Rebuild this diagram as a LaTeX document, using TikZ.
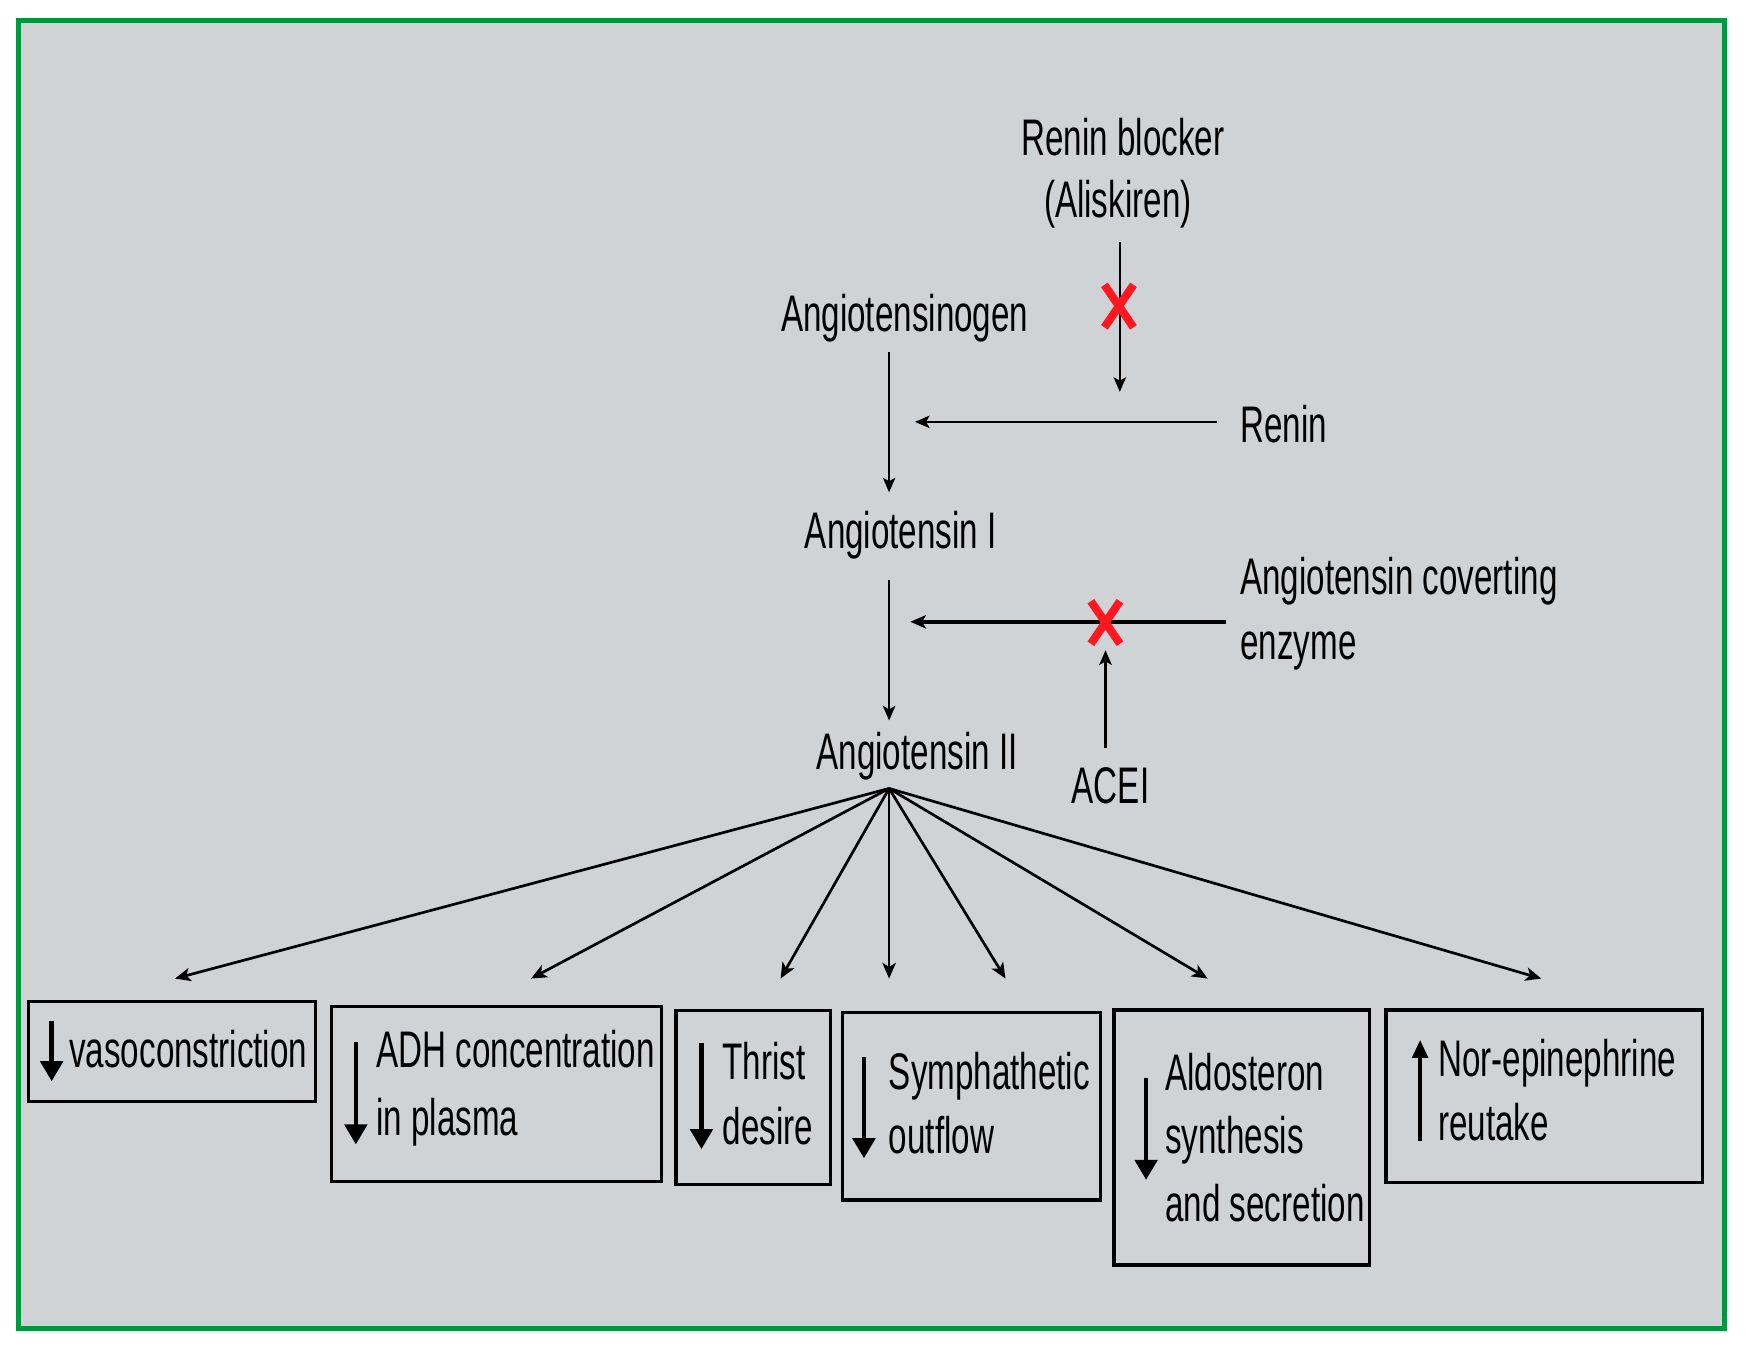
\documentclass[tikz,border=0pt]{standalone}
\usepackage{fontspec}
\setmainfont{Liberation Sans}[FakeStretch=0.645]
\usetikzlibrary{arrows.meta,calc,fit}
\definecolor{bgray}{RGB}{208,211,214}
\definecolor{fgreen}{RGB}{0,152,62}
\definecolor{xred}{RGB}{255,24,32}
\begin{document}
\begin{tikzpicture}[x=0.5pt,y=-0.5pt,
  lbl/.style={inner sep=0pt, font=\fontsize{23}{28}\selectfont, anchor=base},
  lblw/.style={lbl, anchor=base west},
  thinarr/.style={line width=1.1pt, -{Stealth[length=6.5pt,width=5.5pt,inset=1.5pt]}},
  fanarr/.style={line width=1.2pt, -{Stealth[length=7pt,width=6pt,inset=1.8pt]}},
  bigdown/.style={line width=2pt, -{Triangle[length=9pt,width=10pt]}},
  bigup/.style={line width=1.5pt, -{Triangle[length=8pt,width=7pt]}},
  box/.style={draw, line width=1.5pt, inner sep=0pt},
  redx/.style={draw=xred, line width=3.6pt}
]
\useasboundingbox (0,0) rectangle (1563,1204.5);
\fill[white] (0,0) rectangle (1563,1204.5);
\draw[fgreen, line width=2.2pt, fill=bgray] (16.5,18.6) rectangle (1541.7,1187.7);

% upper labels
\node[lbl] (rb1) at (1004,139) {Renin blocker};
\node[lbl] (rb2) at (999.5,194.4) {(Aliskiren)};
\node[lbl] (agen) at (809,296) {Angiotensinogen};
\node[lblw] (renin) at (1108.5,396) {Renin};
\node[lbl] (ang1) at (805.5,490) {Angiotensin I};
\node[lblw] (ace1) at (1108.6,532) {Angiotensin coverting};
\node[lblw] (ace2) at (1108.6,589.7) {enzyme};
\node[lbl] (ang2) at (820,688) {Angiotensin II};
\node[lbl] (acei) at (993,718.6) {ACEI};

% free ends
\coordinate (colx) at (795,0);
\coordinate (rbtip) at (1001.3,350.4);
\coordinate (renintip) at (818.1,377.2);
\coordinate (acetip) at (814,556);
\coordinate (aceitip) at (988.5,581.4);
\coordinate (fan) at (795,705);

% connectors
\draw[thinarr, shorten <=6pt] (rb2.south -| rbtip) -- (rbtip);
\draw[thinarr, shorten <=10pt] (renintip -| renin.west) -- (renintip);
\draw[thinarr, shorten <=4.5pt, shorten >=8pt] (agen.south -| colx) -- (ang1.north -| colx);
\draw[line width=1.2pt, -{Stealth[length=6.5pt,width=5.5pt,inset=1.5pt]}, shorten <=9.5pt, shorten >=5pt] (ang1.south -| colx) -- (ang2.north -| colx);
\draw[line width=1.6pt, -{Stealth[length=7pt,width=6pt,inset=1.8pt]}, shorten <=6pt] (acetip -| ace1.west) -- (acetip);
\draw[line width=1.3pt, -{Stealth[length=6.5pt,width=5.5pt,inset=1.5pt]}, shorten <=8.5pt] (acei.north -| aceitip) -- (aceitip);

% red crosses
\coordinate (xa) at (1000.5,273.7);
\coordinate (xb) at (988.4,556.6);
\draw[redx] ($(xa)+(-13,-19)$) -- ($(xa)+(13,19)$) ($(xa)+(13,-19)$) -- ($(xa)+(-13,19)$);
\draw[redx] ($(xb)+(-13,-19)$) -- ($(xb)+(13,19)$) ($(xb)+(13,-19)$) -- ($(xb)+(-13,19)$);

% boxes
\node[box, fit={(25.7,895.5) (282.3,984.8)}] (b1) {};
\node[box, fit={(296.2,899.7) (591.3,1056.4)}] (b2) {};
\node[box, fit={(604.6,903.6) (742.7,1059.1)}] (b3) {};
\node[box, fit={(753.6,905.1) (984,1072.9)}] (b4) {};
\node[box, fit={(996,903) (1224.8,1131)}] (b5) {};
\node[box, fit={(1239.4,903) (1522.2,1057.2)}] (b6) {};

% box texts
\node[lblw] (b1a) at (61.6,954.7) {vasoconstriction};
\node[lblw] (b2a) at (336.2,954.7) {ADH concentration};
\node[lblw] (b2b) at (336.2,1014.9) {in plasma};
\node[lblw] (b3a) at (645.7,965.2) {Thrist};
\node[lblw] (b3b) at (645.7,1023.3) {desire};
\node[lblw] (b4a) at (794.4,974.6) {Symphathetic};
\node[lblw] (b4b) at (794.4,1031.8) {outflow};
\node[lblw] (b5a) at (1041.6,975.2) {Aldosteron};
\node[lblw] (b5b) at (1041.6,1031.8) {synthesis};
\node[lblw] (b5c) at (1041.6,1092.3) {and secretion};
\node[lblw] (b6a) at (1285.5,962.7) {Nor-epinephrine};
\node[lblw] (b6b) at (1285.5,1019.9) {reutake};

% in-box arrows
\draw[bigdown] (46.2,912.6) -- (46.2,966.8);
\draw[bigdown] (318.2,932.1) -- (318.2,1023.3);
\draw[bigdown] (627.2,933) -- (627.2,1027.5);
\draw[bigdown] (772.5,944.8) -- (772.5,1035.7);
\draw[bigdown] (1024.8,964.1) -- (1024.8,1055);
\draw[bigup] (1269.8,1019.9) -- (1269.8,929.9);

% fan
\coordinate (t1) at (156.5,875);
\coordinate (t2) at (474.8,875);
\coordinate (t3) at (698,875);
\coordinate (t4) at (795,875);
\coordinate (t5) at (899.1,875);
\coordinate (t6) at (1079.8,875);
\coordinate (t7) at (1378.1,875);
\foreach \t in {t1,t2,t3,t4,t5,t6,t7} \draw[fanarr] (fan) -- (\t);
\end{tikzpicture}
\end{document}
